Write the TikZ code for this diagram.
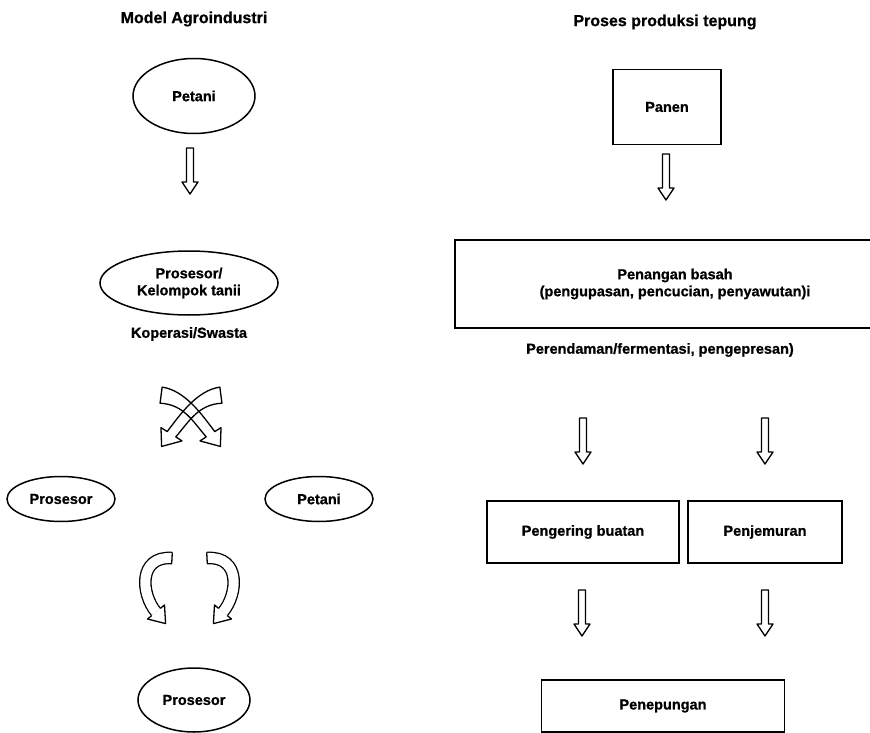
\documentclass[tikz,border=0pt]{standalone}
\usepackage{fontspec}
\setmainfont{Liberation Sans}[BoldFeatures={FakeBold=0.8}]
\usetikzlibrary{shapes.geometric}
\begin{document}
\begin{tikzpicture}[x=1pt,y=-1pt,
  txt/.style={font=\bfseries\fontsize{14.5}{17}\selectfont, inner sep=0pt},
  ttl/.style={font=\bfseries\fontsize{16}{19}\selectfont, inner sep=0pt},
  ell/.style={ellipse, draw, line width=1.5pt, txt},
  boxn/.style={rectangle, draw, line width=1.5pt, txt},
  harrow/.style={draw, line width=1.3pt, fill=white, line join=round},
  cross/.style={draw, line width=1.3pt, line join=round},
  band/.style={draw, line width=1.3pt, double=white, double distance=10pt},
  downarr/.pic={\draw[harrow] (-3.5,0) -- (3.5,0) -- (3.5,34) -- (8,34) -- (0,46) -- (-8,34) -- (-3.5,34) -- cycle;}]
\useasboundingbox (0,0) rectangle (870,733);
\clip (0,0) rectangle (870,733);

% left column
\node[ttl] (t1) at (194,19) {Model Agroindustri};
\node[ell, minimum width=122, minimum height=75] (pet1) at (194,96) {Petani};
\pic (a1) at (190,148) {downarr};
\node[ell, minimum width=178, minimum height=64, align=center] (pk) at (189,283) {Prosesor/\\Kelompok tanii};
\node[txt] (kop) at (189,334) {Koperasi/Swasta};

\begin{scope}[shift={(191,417)}, xscale=1.3, yscale=1.15]
  \draw[cross] (-22.2,-26.0) .. controls (-4.3,-23.0) and (8.7,-1.6) .. (18.3,12.7)
     -- (23.1,9.2) -- (22.6,25.6) -- (6.9,20.8) -- (11.7,17.3)
     .. controls (1.3,3.6) and (-5.7,-11.0) .. (-23.8,-12.0) -- cycle;
  \draw[cross] (22.2,-26.0) .. controls (4.3,-23.0) and (-8.7,-1.6) .. (-18.3,12.7)
     -- (-23.1,9.2) -- (-22.6,25.6) -- (-6.9,20.8) -- (-11.7,17.3)
     .. controls (-1.3,3.6) and (5.7,-11.0) .. (23.8,-12.0) -- cycle;
\end{scope}

\node[ell, minimum width=108, minimum height=45] (pros2) at (61,499) {Prosesor};
\node[ell, minimum width=108, minimum height=45] (pet2) at (319,499) {Petani};

% lower curved arrows
\draw[band] (172,558) .. controls (138,556) and (141,594) .. (156,612);
\draw[line width=1.3pt] (172.3,552.4) -- (171.7,563.6);
\fill[white] (164.5,605.0) -- (165.6,623.6) -- (147.5,619.0) -- cycle;
\draw[harrow, fill=none] (160.3,608.4) -- (164.5,605.0) -- (165.6,623.6) -- (147.5,619.0) -- (151.7,615.6);

\draw[band] (207,558) .. controls (241,556) and (238,594) .. (223,612);
\draw[line width=1.3pt] (206.7,552.4) -- (207.3,563.6);
\fill[white] (214.5,605.0) -- (213.4,623.6) -- (231.5,619.0) -- cycle;
\draw[harrow, fill=none] (218.7,608.4) -- (214.5,605.0) -- (213.4,623.6) -- (231.5,619.0) -- (227.3,615.6);

\node[ell, minimum width=112, minimum height=64] (pros3) at (194,700) {Prosesor};

% right column
\node[ttl] (t2) at (665,22) {Proses produksi tepung};
\node[boxn, minimum width=108, minimum height=75] (panen) at (667,107) {Panen};
\pic (a2) at (666,154) {downarr};
\node[boxn, minimum width=440, minimum height=88, align=center] (basah) at (675,284) {Penangan basah\\(pengupasan, pencucian, penyawutan)i};
\node[txt] (rend) at (660,350) {Perendaman/fermentasi, pengepresan)};
\pic (a3) at (583,418) {downarr};
\pic (a4) at (765,418) {downarr};
\node[boxn, minimum width=192, minimum height=62] (peng) at (583,532) {Pengering buatan};
\node[boxn, minimum width=154, minimum height=62] (jemur) at (765,532) {Penjemuran};
\pic (a5) at (582,590) {downarr};
\pic (a6) at (765,590) {downarr};
\node[boxn, minimum width=243, minimum height=52] (tepung) at (663,706) {Penepungan};
\end{tikzpicture}
\end{document}
